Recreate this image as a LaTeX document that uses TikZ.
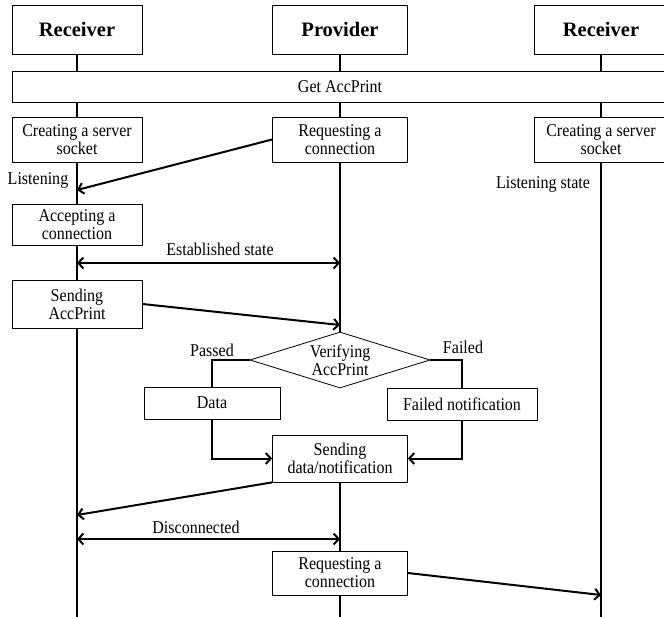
\documentclass[tikz,border=0pt]{standalone}
\usepackage{fontspec}
\setmainfont{Liberation Serif}[FakeStretch=0.89]
\newfontfamily\headfont{Liberation Serif}
\usetikzlibrary{shapes.geometric,arrows.meta,backgrounds}

\begin{document}
\begin{tikzpicture}[x=1pt,y=-1pt]
\tikzstyle{head}=[rectangle, draw, fill=white, line width=0.8pt, minimum height=49pt, font=\headfont\fontsize{20.5}{24}\selectfont\bfseries]
\tikzstyle{box}=[rectangle, draw, fill=white, line width=0.8pt, align=center, inner sep=1pt, font=\fontsize{18}{18}\selectfont]
\tikzstyle{txt}=[inner sep=1pt, align=center, font=\fontsize{18}{18}\selectfont]
\tikzstyle{life}=[line width=2.5pt]
\tikzstyle{msg}=[line width=2pt, -{Straight Barb[length=5pt,width=11pt]}]
\tikzstyle{both}=[line width=2pt, {Straight Barb[length=5pt,width=11pt]}-{Straight Barb[length=5pt,width=11pt]}]

\useasboundingbox (0,0) rectangle (664,617);

\node[head, minimum width=130pt] (hR1) at (77,29.5) {Receiver};
\node[head, minimum width=135pt] (hP) at (340,29.5) {Provider};
\node[head, minimum width=134pt] (hR2) at (601,29.5) {Receiver};

\node[box, minimum width=656pt, minimum height=31pt] (get) at (340,86.5) {Get AccPrint};

\node[box, minimum width=130pt, minimum height=45pt] (c1) at (77,139.5) {Creating a server\\socket};
\node[box, minimum width=135pt, minimum height=45pt] (q1) at (340,139.5) {Requesting a\\connection};
\node[box, minimum width=134pt, minimum height=45pt] (c2) at (601,139.5) {Creating a server\\socket};

\node[txt] (l1) at (38,180) {Listening};
\node[txt] (l2) at (543,184) {Listening state};
\coordinate (k1) at (77,190);
\draw[msg] (q1.west) -- (k1);

\node[box, minimum width=130pt, minimum height=41pt] (a1) at (77,224.5) {Accepting a\\connection};
\node[txt] (est) at (220,249) {Established state};
\coordinate (k2) at (77,263);
\coordinate (k3) at (340,263);
\draw[both] (k2) -- (k3);

\node[box, minimum width=130pt, minimum height=48pt] (s1) at (77,304) {Sending\\AccPrint};
\coordinate (k4) at (340,325);
\draw[msg] (s1.east) -- (k4);

\node[diamond, draw, fill=white, line width=0.8pt, minimum width=180pt, minimum height=56pt, inner sep=0pt] (v) at (340,360) {};
\node[txt] (vt) at (v) {Verifying\\AccPrint};

\node[txt] (pa) at (212,350) {Passed};
\node[txt] (fa) at (463,347) {Failed};
\node[box, minimum width=136pt, minimum height=32pt] (d) at (212,403) {Data};
\node[box, minimum width=150pt, minimum height=32pt] (f) at (462,404) {Failed notification};
\draw[line width=2pt] (v.west) -| (d.north);
\draw[line width=2pt] (v.east) -| (f.north);

\node[box, minimum width=135pt, minimum height=47pt] (sd) at (340,458.5) {Sending\\data/notification};
\draw[msg] (d.south) |- (sd.west);
\draw[msg] (f.south) |- (sd.east);

\coordinate (k5) at (77,515);
\draw[msg] (sd.south west) -- (k5);
\node[txt] (dis) at (196,527) {Disconnected};
\coordinate (k6) at (77,539);
\coordinate (k7) at (340,539);
\draw[both] (k6) -- (k7);

\node[box, minimum width=135pt, minimum height=44pt] (q2) at (340,573) {Requesting a\\connection};
\coordinate (k8) at (601,595);
\draw[msg] (q2.east) -- (k8);

\coordinate (e1) at (77,617);
\coordinate (e2) at (340,617);
\coordinate (e3) at (601,617);
\begin{scope}[on background layer]
\draw[life] (hR1.south) -- (e1);
\draw[life] (hP.south) -- (v.north);
\draw[life] (sd.south) -- (e2);
\draw[life, line width=1.6pt] (hR2.south) -- (e3);
\end{scope}
\end{tikzpicture}
\end{document}
